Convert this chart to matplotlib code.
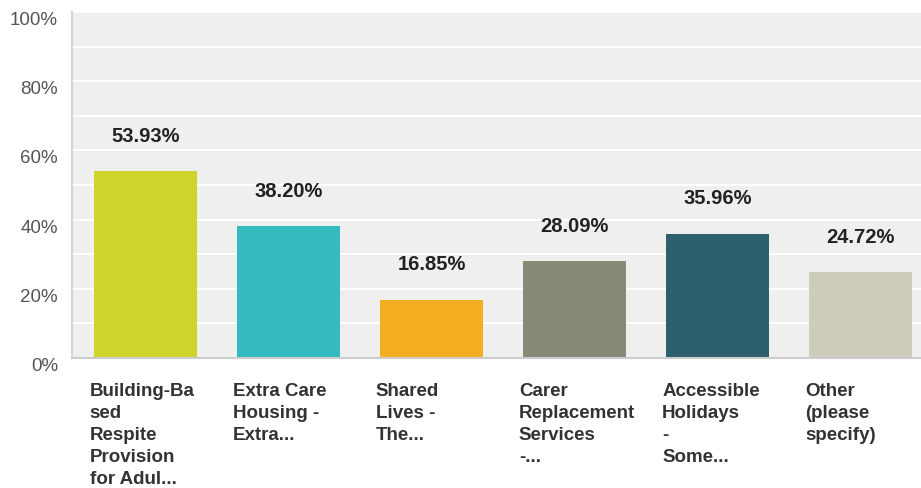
import matplotlib
matplotlib.use("Agg")
import matplotlib.pyplot as plt
from matplotlib.ticker import MultipleLocator

categories = [
    "Building-Ba\nsed\nRespite\nProvision\nfor Adul...",
    "Extra Care\nHousing -\nExtra...",
    "Shared\nLives -\nThe...",
    "Carer\nReplacement\nServices\n-...",
    "Accessible\nHolidays\n-\nSome...",
    "Other\n(please\nspecify)",
]
percentages = [53.93, 38.20, 16.85, 28.09, 35.96, 24.72]
bar_colors = ["#cfd42a", "#33bbbf", "#f5ae21", "#888a78", "#2e5f6c", "#cecdbd"]
y_ticks = [0, 20, 40, 60, 80, 100]

plt.rcParams["font.family"] = ["Liberation Sans", "DejaVu Sans"]

W, H = 921, 488
fig = plt.figure(figsize=(W / 100, H / 100), dpi=100)
ax = fig.add_axes([72 / W, (H - 358) / H, (W - 72) / W, 346 / H])
ax.set_facecolor("#efefef")

x = list(range(len(categories)))
width = 0.72
ax.bar(x, percentages, width=width, color=bar_colors, zorder=3)

for xi, v in zip(x, percentages):
    ax.annotate(f"{v:.2f}%", (xi, v), xytext=(0, 25), textcoords="offset points",
                ha="center", va="center", fontsize=14.5, fontweight="bold",
                color="#222222", zorder=4)

# category labels, left aligned under each bar
for xi, lab in zip(x, categories):
    ax.text(xi - width / 2 - 0.03, -7.3, lab, ha="left", va="top", fontsize=13.5,
            fontweight="bold", color="#333333", linespacing=1.38, clip_on=False)

ax.set_xlim(-0.514, 5.42)
ax.set_ylim(0, 100)
ax.set_xticks([])
ax.set_yticks(y_ticks)
ax.set_yticklabels([f"{t}%" for t in y_ticks], fontsize=13.5, color="#555555",
                   va="top")
ax.yaxis.set_minor_locator(MultipleLocator(10))
ax.tick_params(axis="y", length=0, pad=10, which="both")
ax.grid(axis="y", which="both", color="white", linewidth=1.5, zorder=1)

for side in ["top", "right"]:
    ax.spines[side].set_visible(False)
ax.spines["left"].set_color("#d4d4d4")
ax.spines["left"].set_linewidth(1.5)
ax.spines["bottom"].set_color("#cccccc")
ax.spines["bottom"].set_linewidth(1.5)
ax.spines["left"].set_zorder(5)
ax.spines["bottom"].set_zorder(5)

fig.savefig("out.png", dpi=100)
